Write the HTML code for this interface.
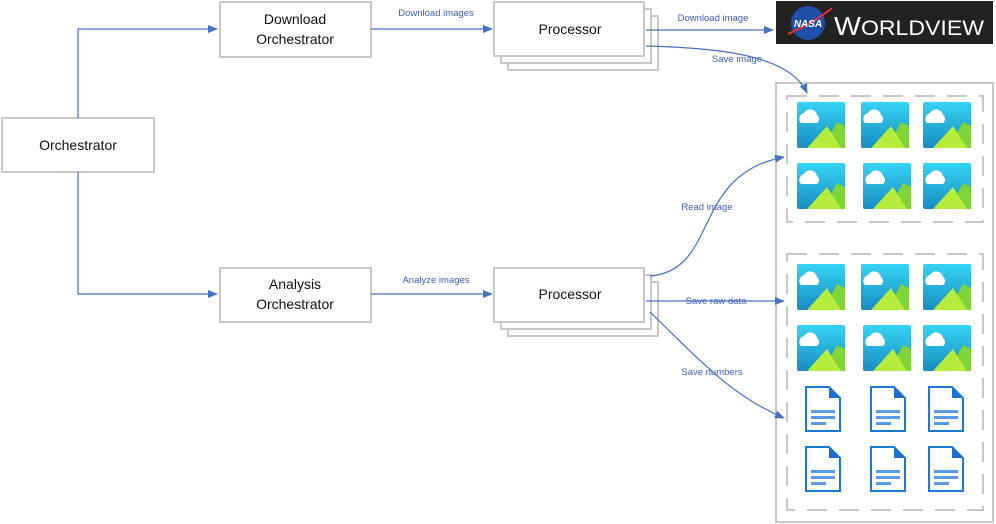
<!DOCTYPE html>
<html><head><meta charset="utf-8"><style>
html,body{margin:0;padding:0;background:#fff;width:996px;height:524px;overflow:hidden}
svg{display:block}
.bx{fill:#fff;stroke:#c8c8c8;stroke-width:2}
.t{font-family:"Liberation Sans",sans-serif;font-size:14px;fill:#111;text-anchor:middle}
.l{font-family:"Liberation Sans",sans-serif;font-size:9.5px;fill:#3b5fb8;text-anchor:middle}
.c{fill:none;stroke:#4472c4;stroke-width:1.2}
</style></head><body>
<svg width="996" height="524" viewBox="0 0 996 524">
<defs>
<marker id="a" markerWidth="10" markerHeight="10" refX="9" refY="5" orient="auto" markerUnits="userSpaceOnUse"><path d="M0,1 L10,5 L0,9 z" fill="#4472c4"/></marker>
<linearGradient id="sky" x1="0" y1="0" x2="0" y2="1"><stop offset="0" stop-color="#35d4f4"/><stop offset="1" stop-color="#1a8cc0"/></linearGradient>
<g id="img">
<rect x="0" y="0" width="48" height="46" rx="2" fill="url(#sky)"/>
<path d="M4,21 a6,6 0 0 1 3,-10 a7,7 0 0 1 13,2 a5,5 0 0 1 0,8 z" fill="#fff"/>
<path d="M26,46 L40,20 L48,24 L48,46 z" fill="#7fd43a"/>
<path d="M10,46 L30,24 L44,46 z" fill="#b6ec3c"/>
</g>
<g id="doc">
<path d="M1,1 H24 L35,12 V45 H1 z" fill="#fff" stroke="#1a7ad6" stroke-width="2"/>
<path d="M24,1 V12 H35 z" fill="#1a6fd0"/>
<rect x="6" y="24" width="24" height="3" fill="#5a9be8"/>
<rect x="6" y="30" width="24" height="3" fill="#5a9be8"/>
<rect x="6" y="36" width="15" height="3" fill="#5a9be8"/>
</g>
</defs>

<!-- storage -->
<rect x="776" y="83" width="217" height="439" fill="#fff" stroke="#c8c8c8" stroke-width="2"/>
<rect x="787" y="96" width="196" height="126" fill="none" stroke="#c8c8c8" stroke-width="2" stroke-dasharray="20,12"/>
<rect x="787" y="254" width="196" height="256" fill="none" stroke="#c8c8c8" stroke-width="2" stroke-dasharray="20,12"/>
<use href="#img" x="797" y="102"/><use href="#img" x="861" y="102"/><use href="#img" x="923" y="102"/>
<use href="#img" x="797" y="163"/><use href="#img" x="863" y="163"/><use href="#img" x="923" y="163"/>
<use href="#img" x="797" y="264"/><use href="#img" x="861" y="264"/><use href="#img" x="923" y="264"/>
<use href="#img" x="797" y="325"/><use href="#img" x="863" y="325"/><use href="#img" x="923" y="325"/>
<use href="#doc" x="805" y="386"/><use href="#doc" x="870" y="386"/><use href="#doc" x="928" y="386"/>
<use href="#doc" x="805" y="446"/><use href="#doc" x="870" y="446"/><use href="#doc" x="928" y="446"/>

<!-- boxes -->
<rect class="bx" x="2" y="118" width="152" height="54"/>
<text class="t" x="78" y="150">Orchestrator</text>
<rect class="bx" x="220" y="2" width="151" height="55"/>
<text class="t" x="295" y="24">Download</text><text class="t" x="295" y="44">Orchestrator</text>
<rect class="bx" x="220" y="268" width="151" height="54"/>
<text class="t" x="295" y="289">Analysis</text><text class="t" x="295" y="309">Orchestrator</text>

<rect class="bx" x="508" y="16" width="150" height="54"/>
<rect class="bx" x="501" y="9" width="150" height="54"/>
<rect class="bx" x="494" y="2" width="150" height="54"/>
<text class="t" x="570" y="34">Processor</text>
<rect class="bx" x="508" y="282" width="150" height="54"/>
<rect class="bx" x="501" y="275" width="150" height="54"/>
<rect class="bx" x="494" y="268" width="150" height="54"/>
<text class="t" x="570" y="299">Processor</text>

<!-- connectors -->
<path class="c" d="M78,118 V29 H217" marker-end="url(#a)"/>
<path class="c" d="M78,172 V294 H217" marker-end="url(#a)"/>
<path class="c" d="M371,29 H492" marker-end="url(#a)"/>
<text class="l" x="436" y="16">Download images</text>
<path class="c" d="M371,294 H492" marker-end="url(#a)"/>
<text class="l" x="436" y="283">Analyze images</text>
<path class="c" d="M646,30 H773" marker-end="url(#a)"/>
<text class="l" x="713" y="21">Download image</text>
<path class="c" d="M646,46 C720,48 790,55 807,93" marker-end="url(#a)"/>
<text class="l" x="737" y="62">Save image</text>
<path class="c" d="M650,276 C720,270 690,175 784,157" marker-end="url(#a)"/>
<text class="l" x="707" y="210">Read image</text>
<path class="c" d="M646,301 H784" marker-end="url(#a)"/>
<text class="l" x="716" y="304">Save raw data</text>
<path class="c" d="M650,312 C700,360 730,395 784,418" marker-end="url(#a)"/>
<text class="l" x="712" y="375">Save numbers</text>

<!-- worldview -->
<rect x="776" y="1" width="217" height="43" fill="#222"/>
<circle cx="808" cy="23" r="17" fill="#1f4fa8"/>
<path d="M788,34 Q815,22 832,8" stroke="#e33" stroke-width="2" fill="none"/>
<text x="808" y="27" font-family="Liberation Sans,sans-serif" font-size="10" font-weight="bold" fill="#fff" text-anchor="middle" font-style="italic">NASA</text>
<text x="834" y="35" font-family="Liberation Sans,sans-serif" font-size="26" fill="#fff" textLength="150" lengthAdjust="spacingAndGlyphs">W<tspan font-size="21">ORLDVIEW</tspan></text>
</svg>
</body></html>
